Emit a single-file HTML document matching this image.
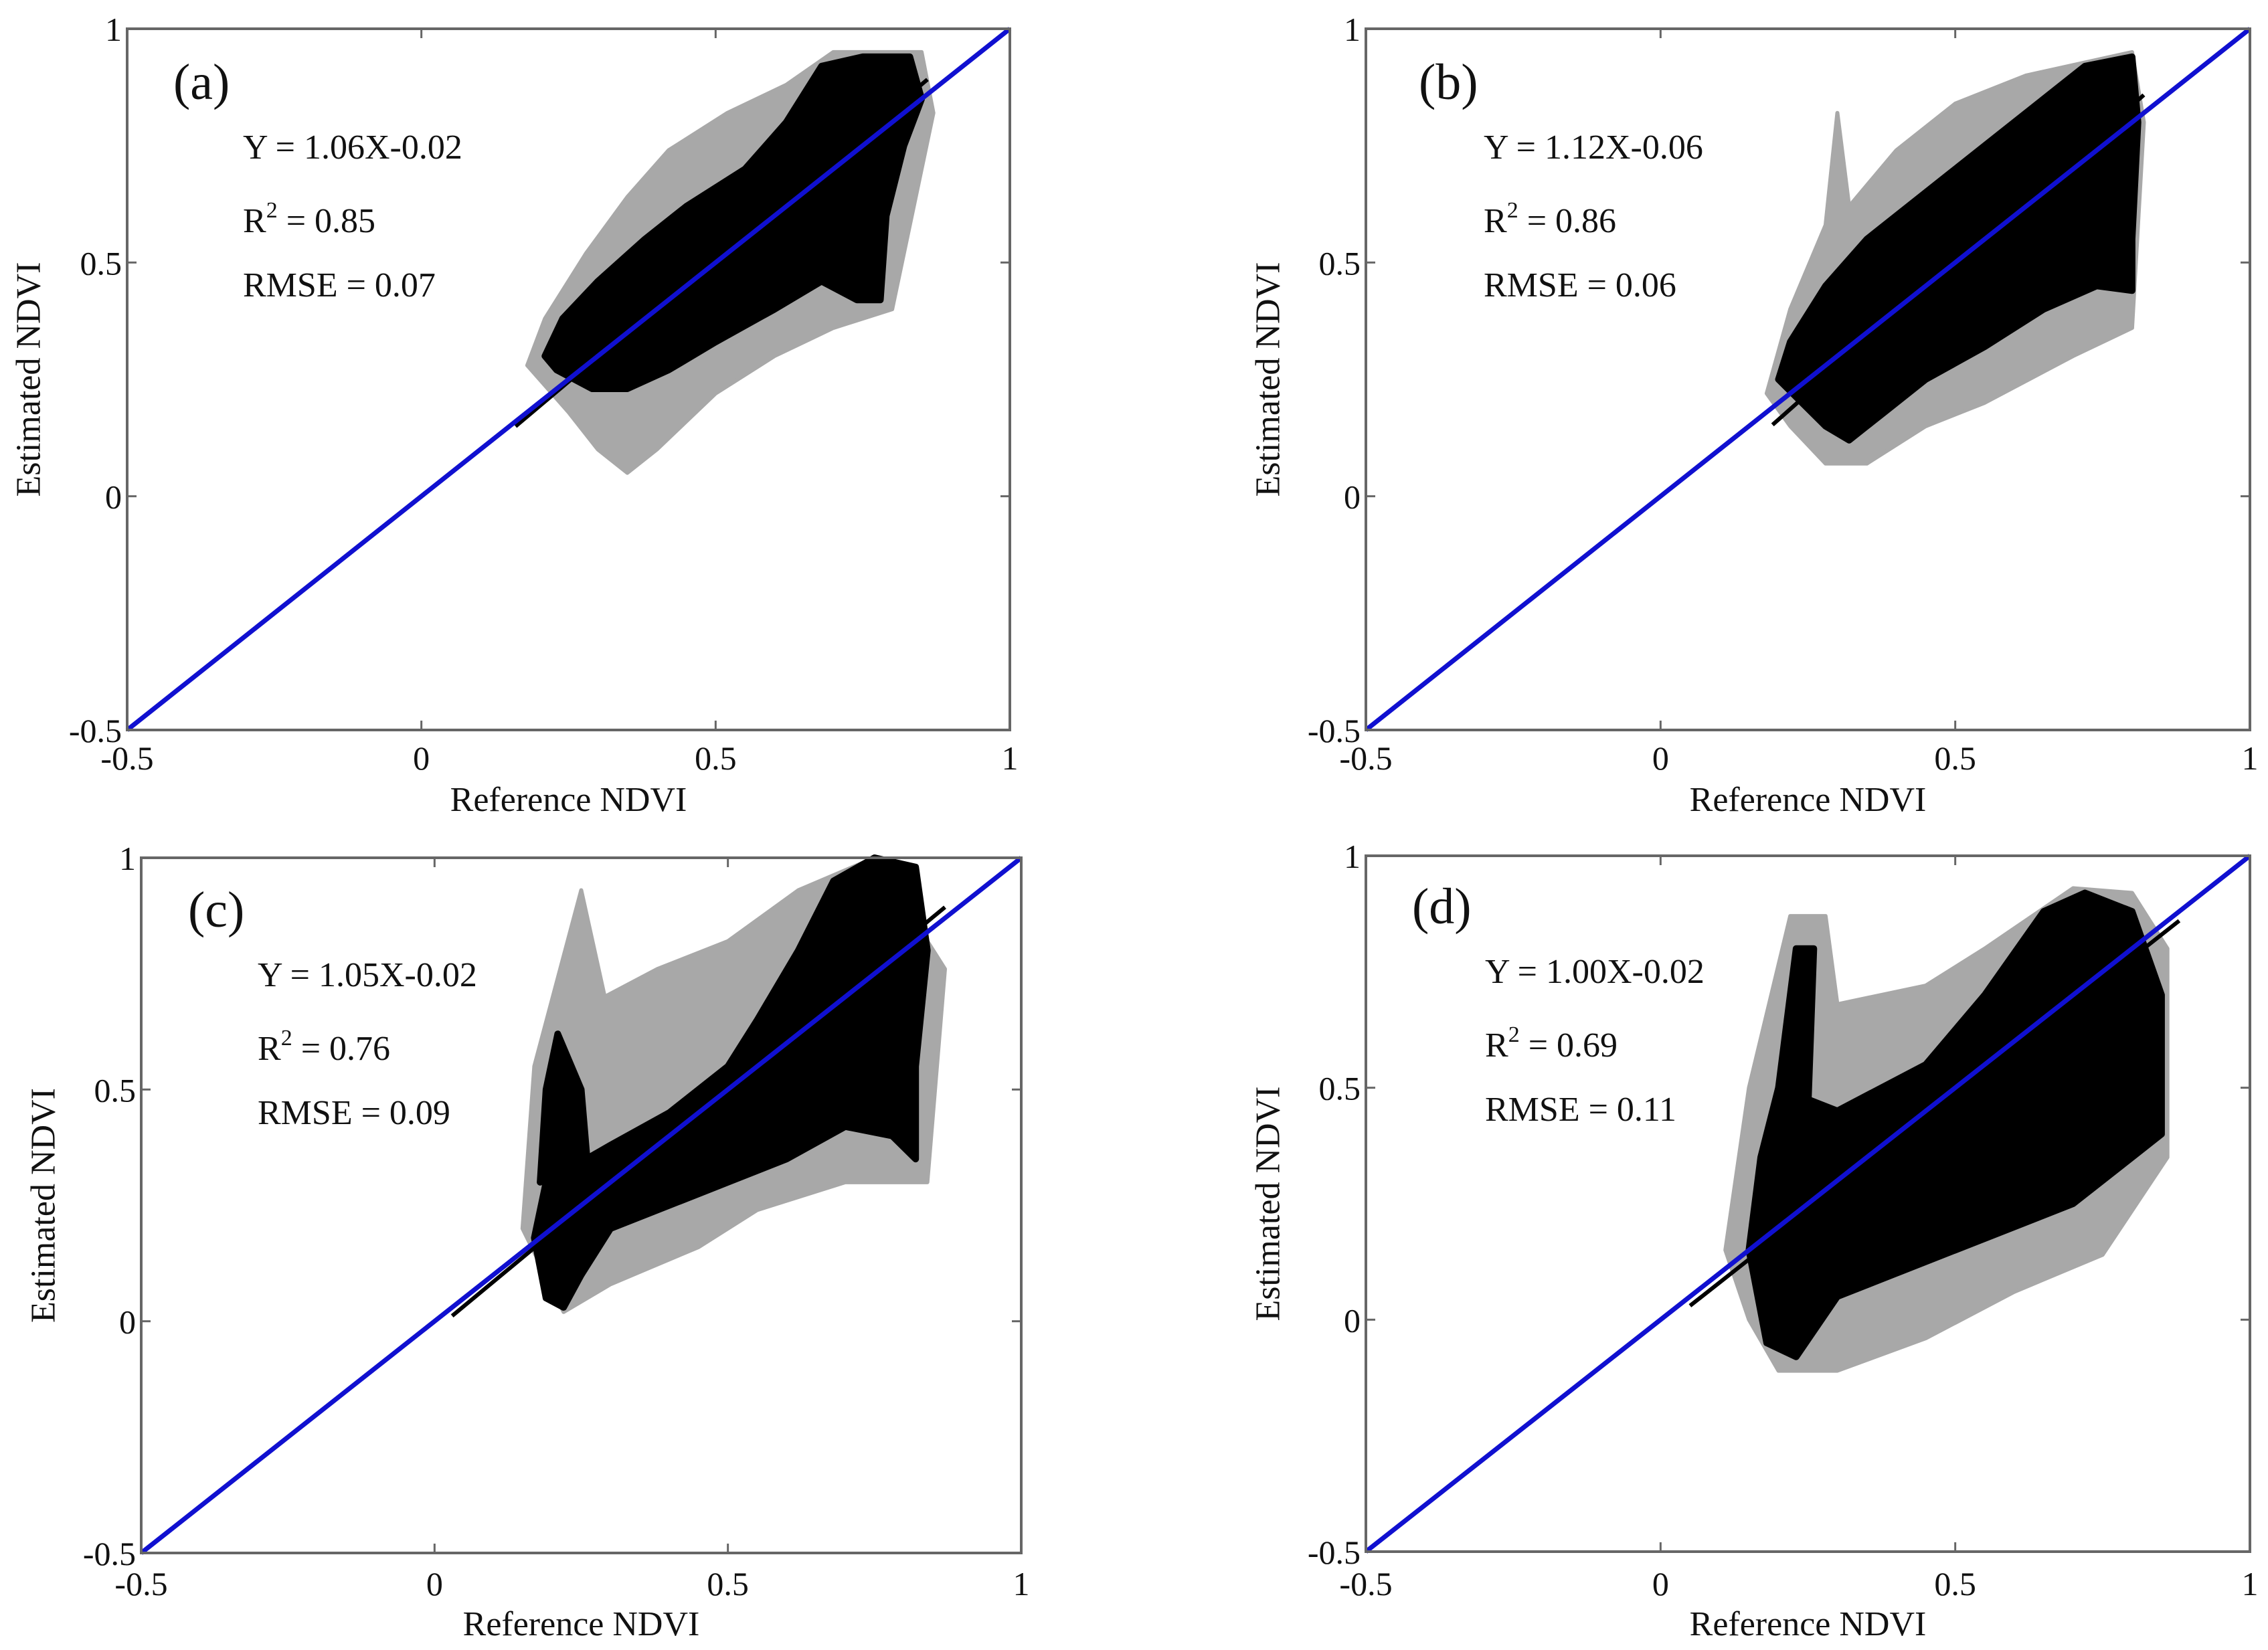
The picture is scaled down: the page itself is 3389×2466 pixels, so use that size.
<!DOCTYPE html>
<html><head><meta charset="utf-8">
<style>
html,body{margin:0;padding:0;background:#fff;}
svg{display:block;}
text{font-family:"Liberation Serif",serif;fill:#111;}
</style></head>
<body>
<svg id="fig" width="3389" height="2466" viewBox="0 0 3389 2466" xmlns="http://www.w3.org/2000/svg"></svg>
<script>
// ---- data ----
const panelLabels = ["(a)", "(b)", "(c)", "(d)"];
const eqTexts = ["Y = 1.06X-0.02", "Y = 1.12X-0.06", "Y = 1.05X-0.02", "Y = 1.00X-0.02"];
const r2Values = ["0.85", "0.86", "0.76", "0.69"];
const rmseValues = ["0.07", "0.06", "0.09", "0.11"];
const fitSlopes = [1.06, 1.12, 1.05, 1.00];
const fitIntercepts = [-0.02, -0.06, -0.02, -0.02];
const fitXMin = [0.16, 0.19, 0.03, 0.05];
const fitXMax = [0.86, 0.82, 0.87, 0.88];
const tickValues = [-0.5, 0, 0.5, 1];
const tickLabels = ["-0.5", "0", "0.5", "1"];
// dense cores (data coords)
const denseA = [[0.21,0.30],[0.24,0.38],[0.30,0.46],[0.38,0.55],[0.45,0.62],[0.55,0.70],[0.62,0.80],[0.68,0.92],[0.75,0.94],[0.83,0.94],[0.85,0.85],[0.82,0.75],[0.79,0.60],[0.78,0.42],[0.74,0.42],[0.68,0.46],[0.60,0.40],[0.50,0.33],[0.42,0.27],[0.35,0.23],[0.29,0.23],[0.23,0.27]];
const haloA = [[0.18,0.28],[0.21,0.38],[0.28,0.52],[0.35,0.64],[0.42,0.74],[0.52,0.82],[0.62,0.88],[0.70,0.95],[0.85,0.95],[0.87,0.82],[0.80,0.40],[0.70,0.36],[0.60,0.30],[0.50,0.22],[0.40,0.10],[0.35,0.05],[0.30,0.10],[0.25,0.18]];
const denseB = [[0.20,0.25],[0.22,0.33],[0.28,0.45],[0.35,0.55],[0.45,0.65],[0.55,0.75],[0.65,0.85],[0.72,0.92],[0.80,0.94],[0.81,0.80],[0.80,0.55],[0.80,0.44],[0.74,0.45],[0.65,0.40],[0.55,0.32],[0.45,0.25],[0.38,0.18],[0.32,0.12],[0.28,0.15],[0.24,0.20]];
const haloB = [[0.18,0.22],[0.22,0.40],[0.28,0.58],[0.30,0.82],[0.32,0.62],[0.40,0.74],[0.50,0.84],[0.62,0.90],[0.80,0.95],[0.82,0.80],[0.80,0.36],[0.70,0.30],[0.55,0.20],[0.45,0.15],[0.35,0.07],[0.28,0.07],[0.22,0.15]];
const denseC = [[0.17,0.18],[0.19,0.30],[0.30,0.38],[0.40,0.45],[0.50,0.55],[0.55,0.65],[0.62,0.80],[0.68,0.95],[0.75,1.0],[0.82,0.98],[0.84,0.80],[0.82,0.55],[0.82,0.35],[0.78,0.40],[0.70,0.42],[0.60,0.35],[0.50,0.30],[0.40,0.25],[0.30,0.20],[0.25,0.10],[0.22,0.03],[0.19,0.05]];
const stripC = [[0.18,0.30],[0.19,0.50],[0.21,0.62],[0.25,0.50],[0.26,0.35]];
const haloC = [[0.15,0.20],[0.17,0.55],[0.25,0.93],[0.29,0.70],[0.38,0.76],[0.50,0.82],[0.62,0.93],[0.75,1.0],[0.87,0.76],[0.84,0.30],[0.70,0.30],[0.55,0.24],[0.45,0.16],[0.30,0.08],[0.22,0.02]];
const denseD = [[0.15,0.15],[0.17,0.35],[0.20,0.50],[0.30,0.45],[0.45,0.55],[0.55,0.70],[0.65,0.88],[0.72,0.92],[0.80,0.88],[0.85,0.70],[0.85,0.40],[0.80,0.35],[0.70,0.25],[0.60,0.20],[0.50,0.15],[0.40,0.10],[0.30,0.05],[0.23,-0.08],[0.18,-0.05]];
const stripD = [[0.20,0.50],[0.23,0.80],[0.26,0.80],[0.25,0.45]];
const haloD = [[0.11,0.15],[0.15,0.50],[0.22,0.87],[0.28,0.87],[0.30,0.68],[0.45,0.72],[0.55,0.80],[0.70,0.93],[0.80,0.92],[0.86,0.80],[0.86,0.35],[0.75,0.14],[0.60,0.06],[0.45,-0.04],[0.30,-0.11],[0.20,-0.11],[0.15,0.0]];
const densePolys = [[denseA],[denseB],[denseC,stripC],[denseD,stripD]];
const haloPolys = [haloA, haloB, haloC, haloD];

// ---- layout ----
const boxes = [
  {l:190,r:1509,t:43,b:1091,yt:43,xt:1150,xtitle:1212,tx:259,ty:148,sx:363},
  {l:2041,r:3362,t:43,b:1091,yt:1895,xt:1150,xtitle:1212,tx:2120,ty:148,sx:2217},
  {l:211,r:1526,t:1282,b:2321,yt:65,xt:2384,xtitle:2444,tx:281,ty:1385,sx:385},
  {l:2041,r:3362,t:1279,b:2319,yt:1895,xt:2384,xtitle:2444,tx:2110,ty:1380,sx:2219}
];
const NS="http://www.w3.org/2000/svg";
const svg=document.getElementById('fig');
function mk(tag,attrs,parent){const e=document.createElementNS(NS,tag);for(const k in attrs)e.setAttribute(k,attrs[k]);(parent||svg).appendChild(e);return e;}

boxes.forEach((B,i)=>{
  const g=mk('g',{});
  
  
  const sx=v=>B.l+(v+0.5)/1.5*(B.r-B.l);
  const sy=v=>B.b-(v+0.5)/1.5*(B.b-B.t);
  const pts=arr=>arr.map(p=>sx(p[0]).toFixed(1)+','+sy(p[1]).toFixed(1)).join(' ');
  const h=mk('polygon',{points:pts(haloPolys[i]),fill:'#a8a8a8','stroke':'#a8a8a8','stroke-width':6,'stroke-linejoin':'round'},g);
  
  
  densePolys[i].forEach(poly=>{
    const d=mk('polygon',{points:pts(poly),fill:'#000',stroke:'#000','stroke-width':10,'stroke-linejoin':'round'},g);
    
    
  });
  const fl=mk('line',{x1:sx(fitXMin[i]),y1:sy(fitSlopes[i]*fitXMin[i]+fitIntercepts[i]),x2:sx(fitXMax[i]),y2:sy(fitSlopes[i]*fitXMax[i]+fitIntercepts[i]),stroke:'#000','stroke-width':6},g);
  
  
  const ol=mk('line',{x1:sx(-0.5),y1:sy(-0.5),x2:sx(1),y2:sy(1),stroke:'#1010d0','stroke-width':7},g);
  
  
  const bx=mk('rect',{x:B.l,y:B.t,width:B.r-B.l,height:B.b-B.t,fill:'none',stroke:'#666','stroke-width':4},g);
  
  
  tickValues.forEach((v,k)=>{
    const X=sx(v),Y=sy(v);
    mk('line',{x1:X,y1:B.b,x2:X,y2:B.b-14,stroke:'#666','stroke-width':3},g);
    mk('line',{x1:X,y1:B.t,x2:X,y2:B.t+14,stroke:'#666','stroke-width':3},g);
    mk('line',{x1:B.l,y1:Y,x2:B.l+14,y2:Y,stroke:'#666','stroke-width':3},g);
    mk('line',{x1:B.r,y1:Y,x2:B.r-14,y2:Y,stroke:'#666','stroke-width':3},g);
    const xl=mk('text',{x:X,y:B.xt,'font-size':50,'text-anchor':'middle'},g);xl.textContent=tickLabels[k];
    
    
    const yl=mk('text',{x:B.l-8,y:Y+18,'font-size':50,'text-anchor':'end'},g);yl.textContent=tickLabels[k];
    
    
  });
  const xt=mk('text',{x:(B.l+B.r)/2,y:B.xtitle,'font-size':52,'text-anchor':'middle'},g);xt.textContent='Reference NDVI';
  
  
  const cy=(B.t+B.b)/2;
  const yt=mk('text',{x:B.yt,y:cy,'font-size':52,'text-anchor':'middle',transform:`rotate(-90 ${B.yt} ${cy})`,'dominant-baseline':'central'},g);yt.textContent='Estimated NDVI';
  
  
  const pl=mk('text',{x:B.tx,y:B.ty,'font-size':76},g);pl.textContent=panelLabels[i];
  
  
  const e1=mk('text',{x:B.sx,y:B.ty+89,'font-size':52},g);e1.textContent=eqTexts[i];
  
  
  const e2=mk('text',{x:B.sx,y:B.ty+199,'font-size':52},g);
  
  
  e2.appendChild(document.createTextNode('R'));
  const sup=mk('tspan',{dy:-22,'font-size':34},e2);sup.textContent='2';
  const rest=mk('tspan',{dy:22},e2);rest.textContent=' = '+r2Values[i];
  const e3=mk('text',{x:B.sx,y:B.ty+295,'font-size':52},g);e3.textContent='RMSE = '+rmseValues[i];
  
  
});
</script>
</body></html>
